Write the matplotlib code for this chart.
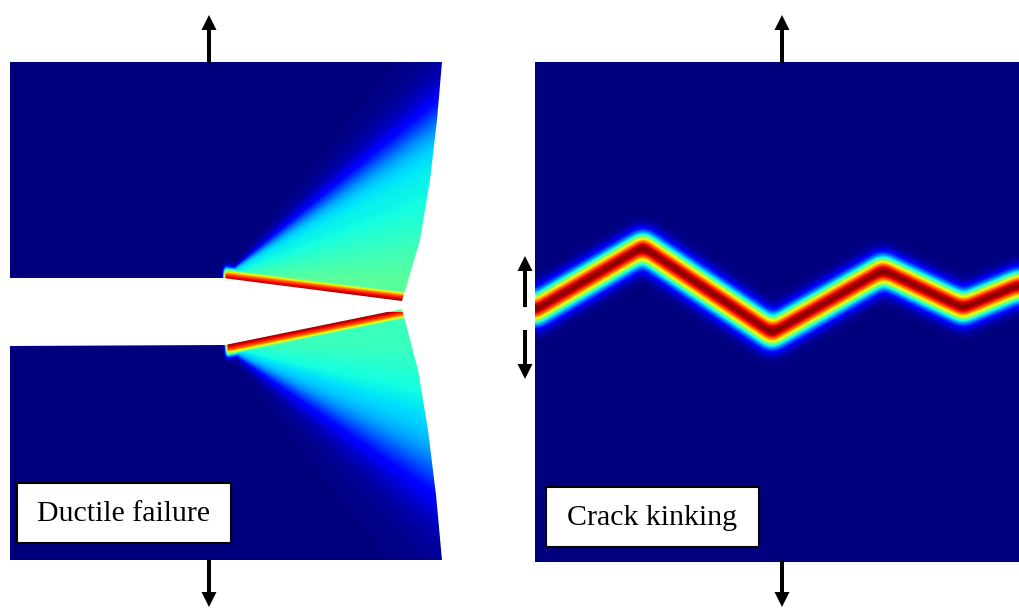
import numpy as np
import matplotlib
matplotlib.use('Agg')
import matplotlib.pyplot as plt
from matplotlib.path import Path
from matplotlib.patches import Rectangle

# --- data (pixel coordinates) ---
# left specimen outline (upper and lower halves)
upper_body_x = [10, 442, 437, 430, 420, 402, 223, 10]
upper_body_y = [62, 62, 120, 180, 240, 301, 278, 278]
lower_body_x = [10, 225, 402, 418, 428, 436, 442, 10]
lower_body_y = [346, 345, 309, 370, 430, 495, 560, 560]
# crack faces (start, end)
upper_face = [(223, 279), (402, 301)]
lower_face = [(225, 345), (402, 309)]
notch_tips = [(221, 278), (221, 346)]
fan_angle = [37.5, 32.0]      # degrees, opening of the plastic zones
fan_blur = [3.0, 4.5]
fan_level = [0.37, 0.36]      # damage level in the fans
fan_near_face = [0.09, 0.06]  # extra damage next to the crack faces

# right specimen: kinked crack path
kink_x = [535, 643, 772, 883, 963, 1019]
kink_y = [310, 247, 333, 270, 308, 285]
right_box = (535, 62, 1019, 562)

labels = ['Ductile failure', 'Crack kinking']


def seg_dist(px, py, a, b):
    ax_, ay_ = a
    bx_, by_ = b
    dx, dy = bx_ - ax_, by_ - ay_
    t = ((px - ax_) * dx + (py - ay_) * dy) / (dx * dx + dy * dy)
    t = np.clip(t, 0, 1)
    return np.hypot(px - (ax_ + t * dx), py - (ay_ + t * dy))


def blur(img, sigma):
    k = np.arange(-3 * int(sigma), 3 * int(sigma) + 1)
    g = np.exp(-0.5 * (k / sigma) ** 2)
    g /= g.sum()
    pad = len(k) // 2
    p = np.pad(img, pad, mode='edge')
    p = np.apply_along_axis(lambda v: np.convolve(v, g, mode='same'), 0, p)
    p = np.apply_along_axis(lambda v: np.convolve(v, g, mode='same'), 1, p)
    return p[pad:-pad, pad:-pad]


W, H = 1019, 608
fig = plt.figure(figsize=(W / 100, H / 100), dpi=100)
ax = fig.add_axes([0, 0, 1, 1])
ax.set_xlim(0, W)
ax.set_ylim(H, 0)
ax.axis('off')

# ---- left field ----
xs = np.arange(0, 460) + 0.5
ys = np.arange(50, 575) + 0.5
X, Y = np.meshgrid(xs, ys)
field = np.zeros_like(X)
for k, sgn in [(0, 1), (1, -1)]:
    tx, ty = notch_tips[k]
    face = [upper_face, lower_face][k]
    theta = np.degrees(np.arctan2(sgn * (ty - Y), X - tx))
    r = np.hypot(X - tx, Y - ty)
    s = 1 / (1 + np.exp((theta - fan_angle[k]) / fan_blur[k]))
    s *= np.clip((theta + 90) / 40, 0, 1) * (1 - np.exp(-r / 6))
    fan = s * (fan_level[k] + fan_near_face[k] * np.clip(1 - theta / (0.6 * fan_angle[k]), 0, 1))
    d = seg_dist(X, Y, face[0], face[1])
    band = 0.9 * np.exp(-(d / 11.0) ** 3) + 0.1 * np.exp(-d / 1.5)
    band *= np.clip((X - face[0][0] + 1) / 4, 0, 1)
    half = (sgn * (Y - 312) < 0)
    field = np.where(half, np.maximum(field, np.maximum(fan, band)), field)

im = ax.imshow(field, cmap='jet', vmin=0, vmax=1, interpolation='bilinear',
               extent=(0, 460, 575, 50))
verts = np.vstack([np.column_stack([upper_body_x + [upper_body_x[0]], upper_body_y + [upper_body_y[0]]]),
                   np.column_stack([lower_body_x + [lower_body_x[0]], lower_body_y + [lower_body_y[0]]])])
codes = ([Path.MOVETO] + [Path.LINETO] * (len(upper_body_x) - 1) + [Path.CLOSEPOLY] +
         [Path.MOVETO] + [Path.LINETO] * (len(lower_body_x) - 1) + [Path.CLOSEPOLY])
im.set_clip_path(Path(verts, codes), ax.transData)

# ---- right field ----
x0, y0, x1, y1 = right_box
xs2 = np.arange(x0, x1) + 0.5
ys2 = np.arange(y0, y1) + 0.5
X2, Y2 = np.meshgrid(xs2, ys2)
dmin = np.full_like(X2, 1e9)
for i in range(len(kink_x) - 1):
    dmin = np.minimum(dmin, seg_dist(X2, Y2, (kink_x[i], kink_y[i]), (kink_x[i + 1], kink_y[i + 1])))
field2 = blur(np.exp(-(dmin / 12.5) ** 2), 4.0)
field2 = field2 / field2.max()
ax.imshow(field2, cmap='jet', vmin=0, vmax=1, interpolation='bilinear',
          extent=(x0, x1, y1, y0))


# ---- loading arrows ----
def arrow(x, ya, yb):
    ax.arrow(x, ya, 0, yb - ya, width=4, head_width=15, head_length=15,
             length_includes_head=True, color='black', lw=0, zorder=4)


arrow(209, 64, 15)
arrow(209, 560, 607)
arrow(782, 64, 15)
arrow(782, 560, 607)
arrow(525, 307, 256)
arrow(525, 330, 379)

# ---- labels ----
for (bx, by, bw, bh), lab in zip([(17, 483, 214, 60), (546, 487, 213, 60)], labels):
    ax.add_patch(Rectangle((bx, by), bw, bh, facecolor='white', edgecolor='black', lw=1.5, zorder=5))
    ax.text(bx + bw / 2, by + bh / 2 + 1, lab, ha='center', va='center',
            family='Liberation Serif', fontsize=21.5, zorder=6)

fig.savefig('out.png', dpi=100)
